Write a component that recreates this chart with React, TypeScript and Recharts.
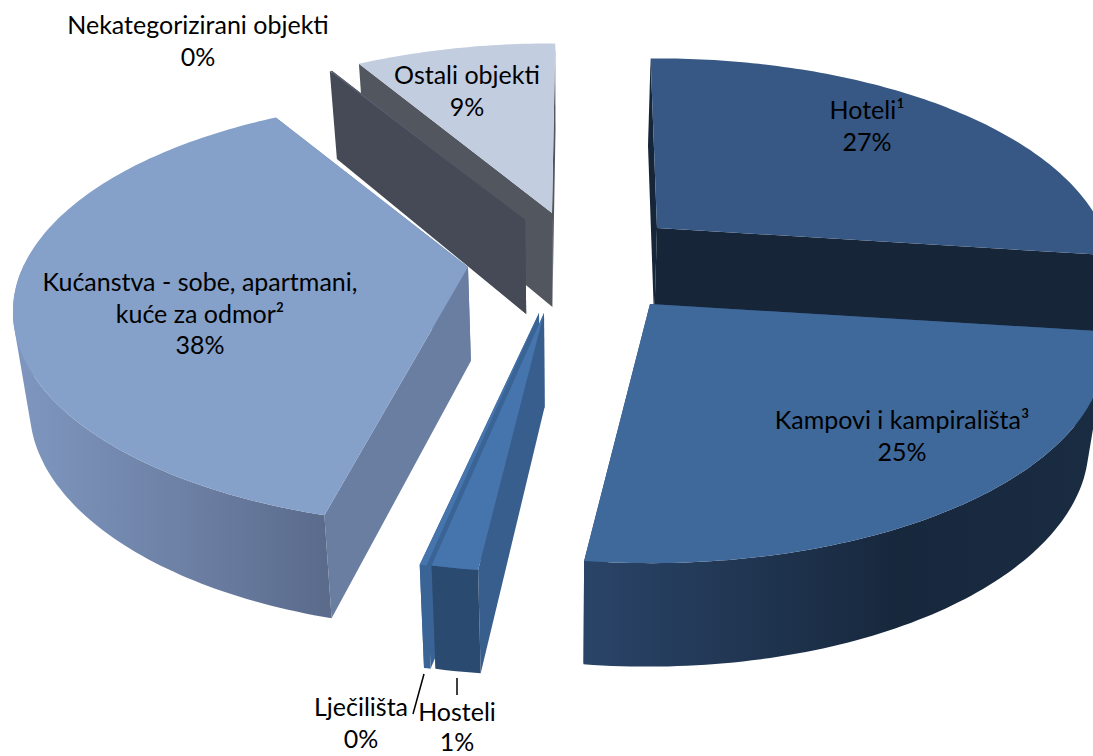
import { PieChart, Pie } from "recharts";

// listed in the order they have to be painted, going round counter clockwise
const names = [
  "Hoteli¹",
  "Ostali objekti",
  "Nekategorizirani objekti",
  "Kućanstva - sobe, apartmani, kuće za odmor²",
  "Lječilišta",
  "Hosteli",
  "Kampovi i kampirališta³",
];
const values = [27.35, 8.55, 0.1, 37.65, 0.2, 1.35, 24.8];

const dados = names.map((name, i) => ({ name, value: values[i] }));

// pseudo 3D: the flat pie is projected with a bit of perspective
const FLATTEN = 205 / 445;
const PERSPECTIVE = 0.209;
const DEPTH = 94;
const LEAN = 0.03;

// pull = how far the slice is moved out of the pie, in pixels
// trim / extend = small corrections of the two cut edges, in degrees
const looks: Record<string, any> = {
  "Hoteli¹": { pull: [92, -37], top: "#375884", cut: "#162638", wall: ["#16263a", "#16263a", "#16263a"] },
  "Kampovi i kampirališta³": { pull: [85, 39], top: "#3f689b", cut: "#2c4a70", wall: ["#1a2c42", "#17283d", "#2a4468"] },
  Hosteli: { pull: [-21, 48], top: "#4675ad", cut: "#385e8d", wall: ["#2b4a70", "#2b4a70", "#2b4a70"] },
  "Lječilišta": { pull: [-26, 48], top: "#4675ad", cut: "#3b6496", wall: ["#3b6496", "#3b6496", "#3b6496"] },
  "Kućanstva - sobe, apartmani, kuće za odmor²": { pull: [-97, 2], extend: 1.5, trim: 2.6, top: "#85a0c9", cut: "#6a7ea2", wall: ["#5a6b8c", "#6b7ea2", "#7f97c0"] },
  "Nekategorizirani objekti": { pull: [-40, -45], extend: 1, trim: 1, top: "#5a6070", cut: "#454a56", wall: ["#454a56", "#454a56", "#454a56"] },
  "Ostali objekti": { pull: [-13, -52], extend: 1.5, trim: 1, top: "#c3cde0", cut: "#52565f", wall: ["#8e96a8", "#8e96a8", "#8e96a8"] },
};

const labels: Record<string, any> = {
  "Hoteli¹": { x: 867, y: 119, lines: ["Hoteli¹"] },
  "Kampovi i kampirališta³": { x: 902, y: 429, lines: ["Kampovi i kampirališta³"] },
  Hosteli: { x: 457, y: 721, gap: 30, lines: ["Hosteli"], leader: [457, 678, 457, 695] },
  "Lječilišta": { x: 361, y: 716, lines: ["Lječilišta"], leader: [424, 674, 413, 714] },
  "Kućanstva - sobe, apartmani, kuće za odmor²": { x: 200, y: 291, lines: ["Kućanstva - sobe, apartmani,", "kuće za odmor²"] },
  "Nekategorizirani objekti": { x: 198, y: 34, lines: ["Nekategorizirani objekti"] },
  "Ostali objekti": { x: 467, y: 84, lines: ["Ostali objekti"] },
};

function path(pts: number[][]) {
  return "M" + pts.map((p) => p[0].toFixed(1) + " " + p[1].toFixed(1)).join("L") + "Z";
}

// same winding for every quad, otherwise overlapping ones cancel out when filled
function quad(pts: number[][]) {
  let area = 0;
  pts.forEach((p, i) => {
    const q = pts[(i + 1) % pts.length];
    area += p[0] * q[1] - q[0] * p[1];
  });
  return path(area < 0 ? [...pts].reverse() : pts);
}

function FatiaShape(props: any) {
  const { cx, cy, outerRadius, name, index } = props;
  const look = looks[name];
  const startAngle = props.startAngle - (look.extend || 0);
  const endAngle = props.endAngle - (look.trim || 0);

  const project = (ux: number, uy: number) => {
    const d = 1 + PERSPECTIVE * uy;
    return [cx + look.pull[0] + (outerRadius * ux) / d, cy + look.pull[1] - (outerRadius * FLATTEN * uy) / d, d];
  };
  const at = (ang: number) => {
    const a = (ang * Math.PI) / 180;
    return project(Math.cos(a), Math.sin(a));
  };
  const down = (p: number[]) => [p[0] + (cx - p[0]) * LEAN, p[1] + DEPTH * Math.pow(p[2], -0.41)];

  const apex = project(0, 0);
  const steps = Math.max(2, Math.ceil(Math.abs(endAngle - startAngle)));
  const arc: number[][] = [];
  const front: number[][] = [];
  for (let i = 0; i <= steps; i++) {
    const ang = startAngle + ((endAngle - startAngle) * i) / steps;
    const p = at(ang);
    arc.push(p);
    // only the part of the rim that faces the viewer gets a wall
    if (Math.sin((ang * Math.PI) / 180) < 0.02) front.push(p);
  }
  const first = arc[0];
  const last = arc[arc.length - 1];
  const gradId = "parede" + index;
  const xs = front.map((p) => p[0]);
  // one path made of small quads, so the wall has no seams
  const wall = front
    .slice(1)
    .map((p, i) => quad([front[i], p, down(p), down(front[i])]))
    .join("");

  return (
    <g>
      <defs>
        <linearGradient
          id={gradId}
          gradientUnits="userSpaceOnUse"
          x1={xs.length ? Math.min(...xs) : 0}
          y1="0"
          x2={xs.length ? Math.max(...xs) : 1}
          y2="0"
        >
          <stop offset="0" stopColor={look.wall[2]} />
          <stop offset="0.6" stopColor={look.wall[1]} />
          <stop offset="1" stopColor={look.wall[0]} />
        </linearGradient>
      </defs>
      <path d={path([apex, last, down(last), down(apex)])} fill={look.cut} />
      <path d={path([apex, first, down(first), down(apex)])} fill={look.cut} />
      {wall && <path d={wall} fill={`url(#${gradId})`} />}
      <path d={path([apex, ...arc])} fill={look.top} />
    </g>
  );
}

function renderLabel(props: any) {
  const { name, percent } = props;
  const l = labels[name];
  const pct = Math.round(percent * 100) + "%";
  return (
    <g key={name}>
      {l.leader && (
        <line x1={l.leader[0]} y1={l.leader[1]} x2={l.leader[2]} y2={l.leader[3]} stroke="#000" strokeWidth={1.5} />
      )}
      <text x={l.x} y={l.y} textAnchor="middle" fontFamily="Lato" fontSize={25} fill="#000">
        {[...l.lines, pct].map((t: string, i: number) => (
          <tspan key={i} x={l.x} dy={i === 0 ? 0 : l.gap || 31.5}>
            {t}
          </tspan>
        ))}
      </text>
    </g>
  );
}

export default function App() {
  return (
    <div style={{ position: "absolute", left: 0, top: 0, width: 1093, height: 756, overflow: "hidden", background: "#fff" }}>
      <PieChart width={1093} height={756} margin={{ top: 0, right: 0, bottom: 0, left: 0 }}>
        <Pie
          data={dados}
          dataKey="value"
          nameKey="name"
          cx={565}
          cy={265}
          innerRadius={0}
          outerRadius={445}
          startAngle={-7.46}
          endAngle={352.54}
          stroke="none"
          shape={FatiaShape}
          label={renderLabel}
          labelLine={false}
          isAnimationActive={false}
        />
      </PieChart>
    </div>
  );
}
